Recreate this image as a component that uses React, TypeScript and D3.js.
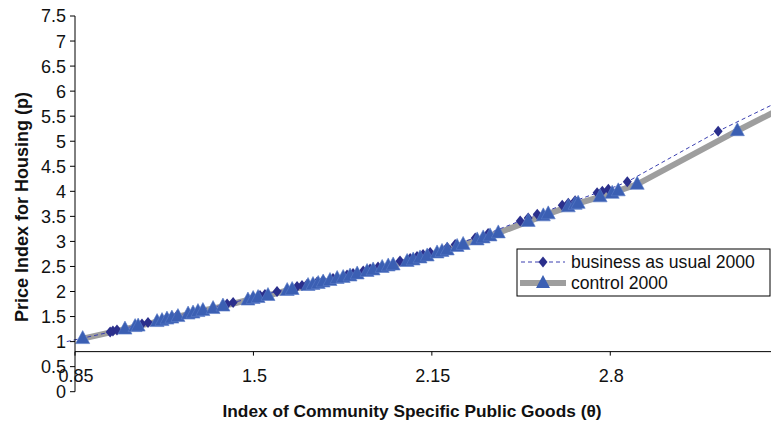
import React from "react";
import * as d3 from "d3";

// Index of community specific public goods (theta) and housing price index (p)
const businessTheta = [0.82, 0.978, 0.988, 1.003, 1.094, 1.116, 1.185, 1.203, 1.222, 1.404, 1.426, 1.499, 1.524, 1.542, 1.586, 1.659, 1.677, 1.695, 1.732, 1.754, 1.79, 1.841, 1.863, 1.9, 1.925, 1.954, 2.034, 2.071, 2.096, 2.118, 2.144, 2.206, 2.235, 2.308, 2.355, 2.472, 2.501, 2.534, 2.625, 2.647, 2.672, 2.752, 2.771, 2.793, 2.862, 3.193, 3.6];
const businessPrice = [1.0, 1.19, 1.21, 1.23, 1.35, 1.38, 1.47, 1.49, 1.52, 1.75, 1.78, 1.88, 1.92, 1.94, 2.0, 2.1, 2.12, 2.14, 2.19, 2.22, 2.26, 2.33, 2.36, 2.41, 2.45, 2.49, 2.61, 2.66, 2.7, 2.74, 2.78, 2.88, 2.94, 3.07, 3.16, 3.41, 3.47, 3.54, 3.72, 3.76, 3.81, 3.97, 4.0, 4.04, 4.19, 5.2, 6.29];

const controlTheta = [0.878, 1.032, 1.069, 1.08, 1.149, 1.167, 1.185, 1.203, 1.225, 1.262, 1.28, 1.298, 1.316, 1.353, 1.389, 1.48, 1.499, 1.517, 1.553, 1.623, 1.641, 1.699, 1.717, 1.736, 1.754, 1.779, 1.805, 1.827, 1.852, 1.878, 1.914, 1.936, 1.969, 1.991, 2.009, 2.06, 2.082, 2.107, 2.133, 2.169, 2.187, 2.206, 2.242, 2.264, 2.315, 2.337, 2.362, 2.392, 2.501, 2.556, 2.574, 2.647, 2.672, 2.683, 2.763, 2.807, 2.829, 2.898, 3.263, 3.62];
const controlPrice = [1.06, 1.25, 1.3, 1.31, 1.4, 1.42, 1.45, 1.47, 1.5, 1.55, 1.57, 1.6, 1.62, 1.66, 1.71, 1.83, 1.86, 1.88, 1.92, 2.02, 2.04, 2.12, 2.14, 2.16, 2.19, 2.22, 2.26, 2.28, 2.31, 2.35, 2.4, 2.43, 2.48, 2.51, 2.53, 2.6, 2.63, 2.67, 2.71, 2.77, 2.8, 2.83, 2.9, 2.94, 3.03, 3.07, 3.11, 3.17, 3.4, 3.51, 3.55, 3.69, 3.74, 3.76, 3.89, 3.96, 4.01, 4.14, 5.21, 6.2];

const xTicks = [0.85, 1.5, 2.15, 2.8];
const xTickLabels = ["0.85", "1.5", "2.15", "2.8"];
const yTicks = [0, 0.5, 1, 1.5, 2, 2.5, 3, 3.5, 4, 4.5, 5, 5.5, 6, 6.5, 7, 7.5];
const yTickLabels = ["0", "0.5", "1", "1.5", "2", "2.5", "3", "3.5", "4", "4.5", "5", "5.5", "6", "6.5", "7", "7.5"];
const xCross = 0.8;

const seriesNames = ["business as usual 2000", "control 2000"];
const xTitle = "Index of Community Specific Public Goods (\u03b8)";
const yTitle = "Price Index for Housing (p)";

const W = 771;
const H = 426;
const FONT = "'Liberation Sans', Arial, sans-serif";

const DIAMOND_COLOR = "#2b2f8c";
const DASH_COLOR = "#3a3fb0";
const TRI_COLOR = "#3b5fb3";
const GRAY = "#9e9e9e";

const diamondPath = "M0,-5.5L4.5,0L0,5.5L-4.5,0Z";
const trianglePath = "M0,-8L7,5L-7,5Z";

export default function App() {
  const x = d3.scaleLinear().domain([0.85, 3.45]).range([75, 788.7]);
  const y = d3.scaleLinear().domain([0, 7.5]).range([391.7, 16]);

  const business = businessTheta.map((t, i) => [t, businessPrice[i]] as [number, number]);
  const control = controlTheta.map((t, i) => [t, controlPrice[i]] as [number, number]);

  const line = d3
    .line<[number, number]>()
    .x((d) => x(d[0]))
    .y((d) => y(d[1]));

  const inDomain = (d: [number, number]) => d[0] >= 0.85 && x(d[0]) <= W + 10;
  const xAxisY = y(xCross);

  const legX = 517;
  const legY = 249;
  const legW = 253;
  const legH = 47;

  return (
    <svg
      width={W}
      height={H}
      style={{ position: "absolute", left: 0, top: 0, background: "#fff", fontFamily: FONT }}
    >
      <rect x={0} y={0} width={W} height={H} fill="#fff" />

      {/* series lines */}
      <path d={line(control) || ""} fill="none" stroke={GRAY} strokeWidth={6} />
      <path d={line(business) || ""} fill="none" stroke={DASH_COLOR} strokeWidth={1} strokeDasharray="4,3" />

      {/* markers */}
      {business.filter(inDomain).map((d, i) => (
        <path key={"b" + i} d={diamondPath} transform={`translate(${x(d[0])},${y(d[1])})`} fill={DIAMOND_COLOR} />
      ))}
      {control.filter(inDomain).map((d, i) => (
        <path key={"c" + i} d={trianglePath} transform={`translate(${x(d[0])},${y(d[1])})`} fill={TRI_COLOR} stroke="#5a7cc8" strokeWidth={0.6} />
      ))}

      {/* y axis */}
      <line x1={75} x2={75} y1={y(0)} y2={y(7.5)} stroke="#000" strokeWidth={1} />
      {yTicks.map((t, i) => (
        <g key={"yt" + i}>
          <line x1={70} x2={75} y1={y(t)} y2={y(t)} stroke="#000" strokeWidth={1} />
          <text x={66} y={y(t)} dy="0.36em" textAnchor="end" fontSize={18} fill="#111">
            {yTickLabels[i]}
          </text>
        </g>
      ))}

      {/* x axis */}
      <line x1={75} x2={W} y1={xAxisY} y2={xAxisY} stroke="#000" strokeWidth={1} />
      {xTicks.map((t, i) => (
        <g key={"xt" + i}>
          <line x1={x(t)} x2={x(t)} y1={xAxisY} y2={xAxisY + 4} stroke="#000" strokeWidth={1} />
          <text x={x(t) + 1} y={382} textAnchor="middle" fontSize={18} fill="#111">
            {xTickLabels[i]}
          </text>
        </g>
      ))}

      {/* axis titles */}
      <text x={412} y={417} textAnchor="middle" fontSize={17.3} fontWeight="bold" fill="#111">
        {xTitle}
      </text>
      <text
        transform={`translate(28,207) rotate(-90)`}
        textAnchor="middle"
        fontSize={18}
        fontWeight="bold"
        fill="#111"
      >
        {yTitle}
      </text>

      {/* legend */}
      <rect x={legX} y={legY} width={legW} height={legH} fill="#fff" stroke="#000" strokeWidth={1} />
      <line x1={521} x2={565} y1={legY + 13} y2={legY + 13} stroke={DASH_COLOR} strokeWidth={1} strokeDasharray="4,3" />
      <path d={diamondPath} transform={`translate(543,${legY + 13})`} fill={DIAMOND_COLOR} />
      <text x={571} y={legY + 13} dy="0.36em" fontSize={17.6} fill="#111">
        {seriesNames[0]}
      </text>
      <line x1={520} x2={566} y1={legY + 34} y2={legY + 34} stroke={GRAY} strokeWidth={6} />
      <path d={trianglePath} transform={`translate(543,${legY + 34})`} fill={TRI_COLOR} />
      <text x={571} y={legY + 34} dy="0.36em" fontSize={17.6} fill="#111">
        {seriesNames[1]}
      </text>
    </svg>
  );
}
